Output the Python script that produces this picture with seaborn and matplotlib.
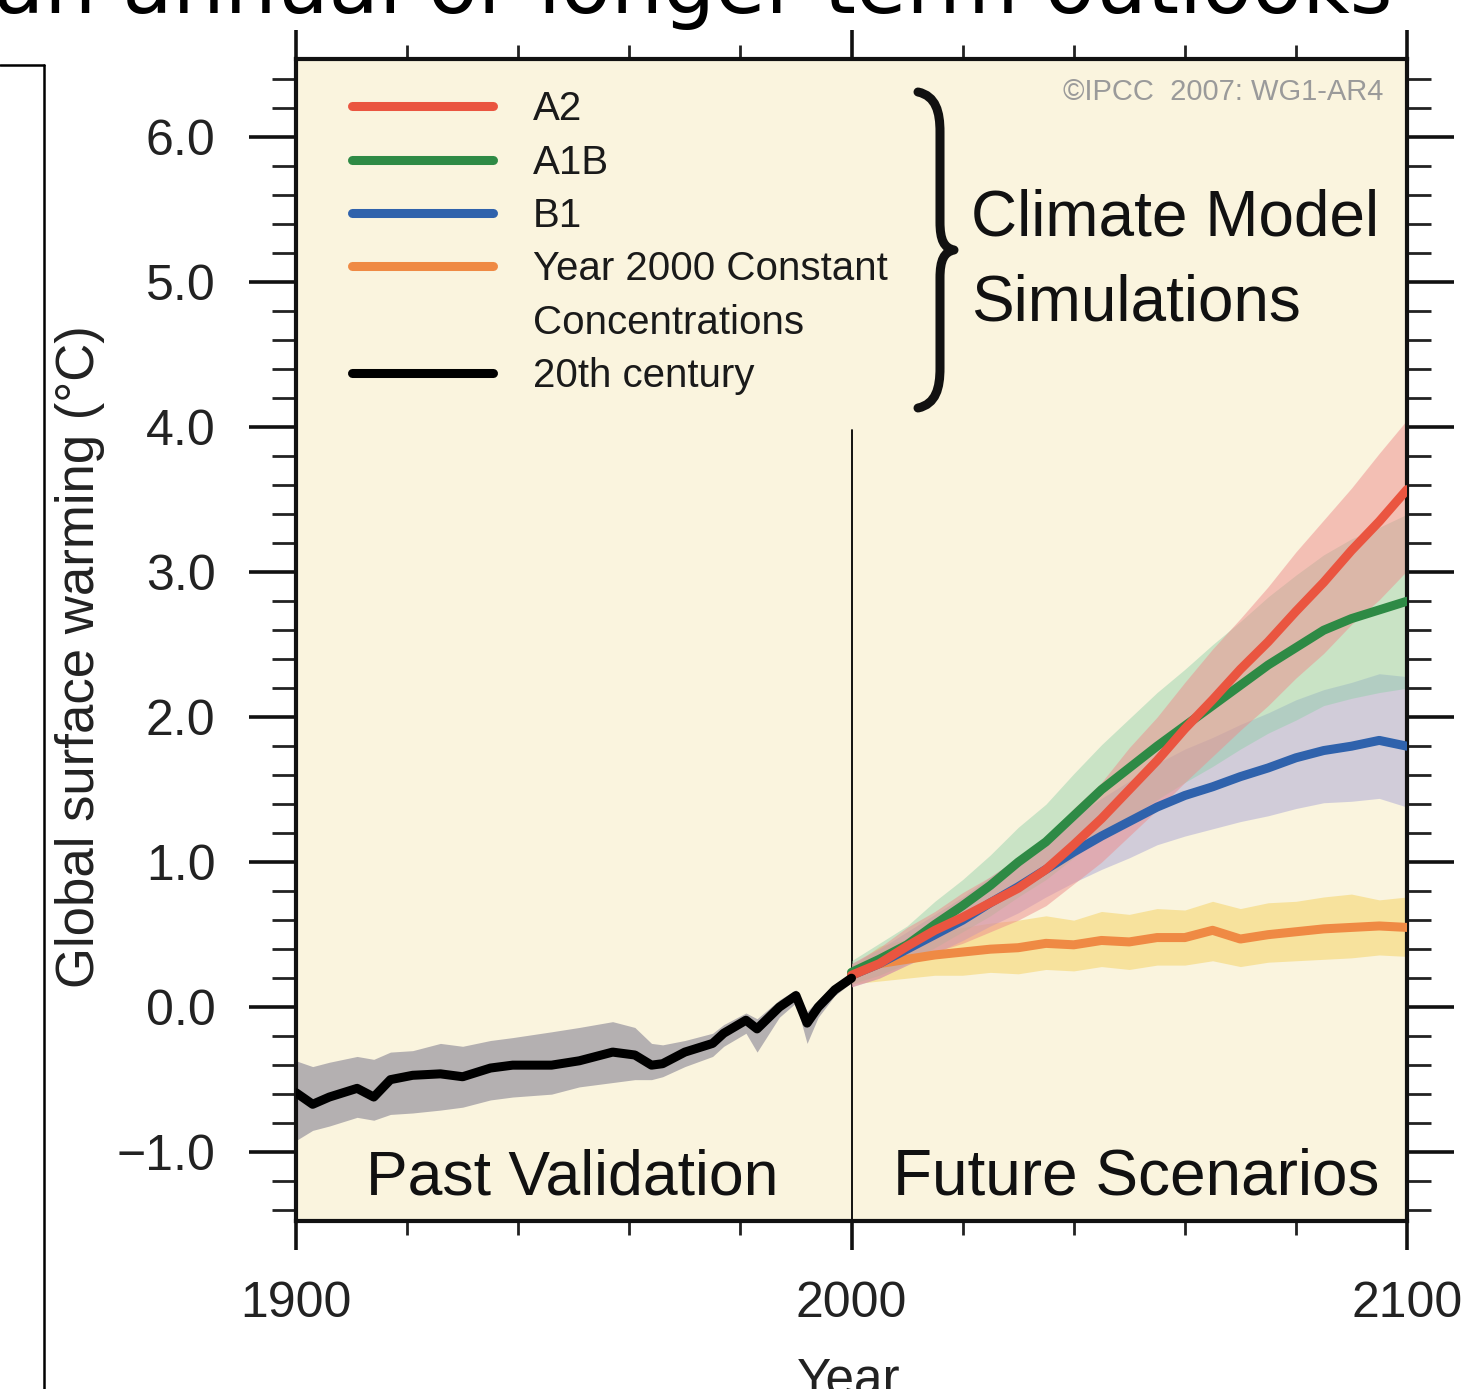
import matplotlib
matplotlib.use("Agg")
import numpy as np
import pandas as pd
import matplotlib.pyplot as plt
import seaborn as sns
from matplotlib.path import Path
from matplotlib.patches import PathPatch
from matplotlib.lines import Line2D
from matplotlib.ticker import MultipleLocator, FixedLocator

# ---------------- data ----------------
years_past = [1900, 1903, 1906, 1911, 1914, 1917, 1921, 1926, 1930, 1935, 1939, 1946,
              1951, 1957, 1961, 1964, 1966, 1970, 1975, 1977, 1981, 1983, 1987, 1990,
              1992, 1994, 1997, 2000]
past_mean = [-0.59, -0.67, -0.62, -0.56, -0.62, -0.50, -0.47, -0.46, -0.48, -0.42, -0.40, -0.40,
             -0.37, -0.31, -0.33, -0.40, -0.39, -0.31, -0.25, -0.18, -0.09, -0.15, 0.00, 0.08,
             -0.11, 0.00, 0.12, 0.20]
past_hi = [-0.37, -0.41, -0.38, -0.34, -0.36, -0.31, -0.30, -0.25, -0.27, -0.23, -0.21, -0.17,
           -0.14, -0.10, -0.14, -0.25, -0.26, -0.23, -0.18, -0.12, -0.04, -0.08, 0.05, 0.12,
           -0.03, 0.05, 0.16, 0.23]
past_lo = [-0.92, -0.85, -0.82, -0.76, -0.78, -0.74, -0.73, -0.71, -0.69, -0.64, -0.62, -0.60,
           -0.55, -0.52, -0.50, -0.50, -0.48, -0.41, -0.34, -0.27, -0.18, -0.31, -0.07, 0.03,
           -0.25, -0.07, 0.08, 0.17]

years_future = [2000, 2005, 2010, 2015, 2020, 2025, 2030, 2035, 2040, 2045, 2050,
                2055, 2060, 2065, 2070, 2075, 2080, 2085, 2090, 2095, 2100]

a2_mean = [0.22, 0.30, 0.42, 0.53, 0.62, 0.72, 0.82, 0.95, 1.12, 1.30, 1.50,
           1.70, 1.92, 2.12, 2.33, 2.52, 2.73, 2.93, 3.15, 3.35, 3.57]
a2_hi = [0.30, 0.41, 0.55, 0.66, 0.79, 0.90, 1.03, 1.17, 1.37, 1.55, 1.79,
         2.00, 2.24, 2.47, 2.68, 2.90, 3.14, 3.36, 3.58, 3.82, 4.05]
a2_lo = [0.14, 0.20, 0.29, 0.38, 0.44, 0.52, 0.60, 0.70, 0.85, 1.00, 1.18,
         1.36, 1.55, 1.73, 1.91, 2.08, 2.27, 2.44, 2.64, 2.81, 3.01]

a1b_mean = [0.24, 0.33, 0.43, 0.57, 0.70, 0.84, 1.00, 1.14, 1.32, 1.50, 1.65,
            1.80, 1.94, 2.08, 2.22, 2.36, 2.48, 2.60, 2.68, 2.74, 2.80]
a1b_hi = [0.32, 0.44, 0.56, 0.73, 0.88, 1.05, 1.24, 1.40, 1.61, 1.81, 1.99,
          2.17, 2.33, 2.50, 2.66, 2.83, 2.98, 3.12, 3.23, 3.31, 3.40]
a1b_lo = [0.16, 0.22, 0.30, 0.41, 0.52, 0.63, 0.76, 0.88, 1.03, 1.19, 1.31,
          1.43, 1.55, 1.66, 1.78, 1.89, 1.98, 2.08, 2.13, 2.17, 2.20]

b1_mean = [0.22, 0.30, 0.40, 0.50, 0.60, 0.72, 0.83, 0.95, 1.07, 1.18, 1.28,
           1.38, 1.46, 1.52, 1.59, 1.65, 1.72, 1.77, 1.80, 1.84, 1.80]
b1_hi = [0.30, 0.40, 0.52, 0.64, 0.76, 0.90, 1.03, 1.17, 1.31, 1.44, 1.56,
         1.68, 1.78, 1.86, 1.95, 2.03, 2.12, 2.19, 2.24, 2.30, 2.28]
b1_lo = [0.14, 0.20, 0.29, 0.37, 0.46, 0.56, 0.65, 0.76, 0.86, 0.95, 1.03,
         1.12, 1.18, 1.23, 1.28, 1.32, 1.37, 1.41, 1.42, 1.44, 1.38]

const_mean = [0.22, 0.30, 0.33, 0.36, 0.38, 0.40, 0.41, 0.44, 0.43, 0.46, 0.45,
              0.48, 0.48, 0.53, 0.47, 0.50, 0.52, 0.54, 0.55, 0.56, 0.55]
const_hi = [0.28, 0.42, 0.47, 0.52, 0.55, 0.58, 0.60, 0.63, 0.60, 0.66, 0.64,
            0.68, 0.67, 0.73, 0.68, 0.72, 0.73, 0.76, 0.78, 0.74, 0.76]
const_lo = [0.16, 0.18, 0.20, 0.22, 0.22, 0.24, 0.23, 0.26, 0.25, 0.28, 0.26,
            0.29, 0.29, 0.32, 0.28, 0.31, 0.32, 0.33, 0.34, 0.36, 0.35]

legend_labels = ["A2", "A1B", "B1", "Year 2000 Constant", "Concentrations", "20th century"]
x_ticks = [1900, 2000, 2100]
y_ticks = [-1.0, 0.0, 1.0, 2.0, 3.0, 4.0, 5.0, 6.0]

# ---------------- style ----------------
sns.set_theme(style="white")
plt.rcParams["font.family"] = ["Liberation Sans", "DejaVu Sans"]
plt.rcParams["axes.unicode_minus"] = True

W, H = 1470, 1389
fig = plt.figure(figsize=(W / 100, H / 100), dpi=100)
fig.patch.set_facecolor("white")
ax = fig.add_axes([296 / W, 1 - 1221 / H, (1407 - 296) / W, (1221 - 59) / H])
ax.set_facecolor("#FAF4DE")

c_a2, c_a1b, c_b1, c_const = "#EA5540", "#2E8A45", "#2F62AC", "#EF8A44"

df_past = pd.DataFrame({"year": years_past, "mean": past_mean, "hi": past_hi, "lo": past_lo})
df_fut = pd.DataFrame({"year": years_future,
                       "a2": a2_mean, "a2_hi": a2_hi, "a2_lo": a2_lo,
                       "a1b": a1b_mean, "a1b_hi": a1b_hi, "a1b_lo": a1b_lo,
                       "b1": b1_mean, "b1_hi": b1_hi, "b1_lo": b1_lo,
                       "cc": const_mean, "cc_hi": const_hi, "cc_lo": const_lo})

# vertical separator at 2000
ax.axvline(2000, ymin=0, ymax=0.681, color="black", lw=1.3, zorder=1)

# uncertainty bands
ax.fill_between(df_past["year"], df_past["lo"], df_past["hi"], color="#9A96A0", alpha=0.72, lw=0, zorder=2)
ax.fill_between(df_fut["year"], df_fut["cc_lo"], df_fut["cc_hi"], color="#F5D468", alpha=0.55, lw=0, zorder=2)
ax.fill_between(df_fut["year"], df_fut["b1_lo"], df_fut["b1_hi"], color="#A9A6D6", alpha=0.5, lw=0, zorder=2)
ax.fill_between(df_fut["year"], df_fut["a1b_lo"], df_fut["a1b_hi"], color="#8ECFA8", alpha=0.45, lw=0, zorder=2)
ax.fill_between(df_fut["year"], df_fut["a2_lo"], df_fut["a2_hi"], color="#EE8C8C", alpha=0.5, lw=0, zorder=2)

# mean lines
lw = 6.5
sns.lineplot(data=df_fut, x="year", y="cc", ax=ax, color=c_const, lw=lw, zorder=4, legend=False)
sns.lineplot(data=df_fut, x="year", y="b1", ax=ax, color=c_b1, lw=lw, zorder=4, legend=False)
sns.lineplot(data=df_fut, x="year", y="a1b", ax=ax, color=c_a1b, lw=lw, zorder=4, legend=False)
sns.lineplot(data=df_fut, x="year", y="a2", ax=ax, color=c_a2, lw=lw, zorder=4, legend=False)
sns.lineplot(data=df_past, x="year", y="mean", ax=ax, color="black", lw=lw, zorder=5, legend=False)

# axes limits, ticks
ax.set_xlim(1900, 2100)
ax.set_ylim(-1.475, 6.54)
ax.xaxis.set_major_locator(FixedLocator(x_ticks))
ax.xaxis.set_minor_locator(MultipleLocator(20))
ax.yaxis.set_major_locator(FixedLocator(y_ticks))
ax.yaxis.set_minor_locator(MultipleLocator(0.2))
ax.set_xticklabels([str(v) for v in x_ticks])
ax.set_yticklabels([f"{v:.1f}".replace("-", "\u2212") for v in y_ticks])

ax.tick_params(axis="y", which="major", direction="out", length=34, width=2.6, pad=24,
               left=True, right=True, labelsize=36, labelcolor="#222222", color="#111111")
ax.tick_params(axis="y", which="minor", direction="out", length=17, width=2.0,
               left=True, right=True, color="#222222")
ax.tick_params(axis="x", which="major", direction="out", length=21, width=2.6, pad=22,
               top=True, bottom=True, labelsize=36, labelcolor="#222222", color="#111111")
ax.tick_params(axis="x", which="minor", direction="out", length=10, width=2.0,
               top=True, bottom=True, color="#222222")
for s in ax.spines.values():
    s.set_visible(True)
    s.set_linewidth(3)
    s.set_color("#111111")
ax.grid(False)

ax.set_ylabel("Global surface warming (\u00b0C)", fontsize=38, color="#222222")
ax.yaxis.label.set_va("center")
ax.yaxis.set_label_coords(-0.1944, 0.4854)
ax.set_xlabel("Year", fontsize=37, color="#222222")
ax.xaxis.label.set_va("top")
ax.xaxis.set_label_coords(0.4977, -0.117)

# legend
handles = [Line2D([], [], color=c_a2, lw=lw, solid_capstyle="round"),
           Line2D([], [], color=c_a1b, lw=lw, solid_capstyle="round"),
           Line2D([], [], color=c_b1, lw=lw, solid_capstyle="round"),
           Line2D([], [], color=c_const, lw=lw, solid_capstyle="round"),
           Line2D([], [], color="none", lw=0),
           Line2D([], [], color="black", lw=lw, solid_capstyle="round")]
leg = ax.legend(handles, legend_labels, loc="upper left", bbox_to_anchor=(0.0504, 0.973),
                frameon=False, fontsize=29, handlelength=3.5, handletextpad=1.0,
                labelspacing=0.38, borderpad=0, borderaxespad=0)
for t in leg.get_texts():
    t.set_color("#1a1a1a")

# annotation texts (positions in data coords)
def px2data(px, py):
    return 1900 + (px - 296) / 5.53, (1007 - py) / 145.0

x, y = px2data(968, 235)
ax.text(x, y, "Climate Model", fontsize=46, va="baseline", ha="left", color="#111111", zorder=6)
x, y = px2data(968, 320)
ax.text(x, y, "Simulations", fontsize=46, va="baseline", ha="left", color="#111111", zorder=6)
x, y = px2data(1378, 100)
ax.text(x, y, "\u00a9IPCC  2007: WG1-AR4", fontsize=21, va="baseline", ha="right", color="#9A9A9A", zorder=6)
x, y = px2data(366, 1194)
ax.text(x, y, "Past Validation", fontsize=45, va="baseline", ha="left", color="#111111", zorder=6)
x, y = px2data(890, 1194)
ax.text(x, y, "Future Scenarios", fontsize=46, va="baseline", ha="left", color="#111111", zorder=6)

# curly brace (figure-pixel positions)
def fp(px, py):
    return (px / W, 1 - py / H)

verts = [fp(918, 92), fp(936, 96), fp(940, 112), fp(940, 132),
         fp(940, 222),
         fp(940, 240), fp(944, 248), fp(954, 250),
         fp(944, 252), fp(940, 260), fp(940, 278),
         fp(940, 368),
         fp(940, 388), fp(936, 404), fp(918, 408)]
codes = [Path.MOVETO, Path.CURVE4, Path.CURVE4, Path.CURVE4,
         Path.LINETO,
         Path.CURVE4, Path.CURVE4, Path.CURVE4,
         Path.CURVE4, Path.CURVE4, Path.CURVE4,
         Path.LINETO,
         Path.CURVE4, Path.CURVE4, Path.CURVE4]
brace = PathPatch(Path(verts, codes), transform=fig.transFigure, fill=False,
                  lw=6.5, edgecolor="#111111", capstyle="round", joinstyle="round")
fig.add_artist(brace)

# slide context: box edge on the left and the clipped title at top
fig.add_artist(Line2D([44 / W, 44 / W], [1 - 65 / H, 0], transform=fig.transFigure, color="black", lw=1.8))
fig.add_artist(Line2D([0, 44 / W], [1 - 65 / H, 1 - 65 / H], transform=fig.transFigure, color="black", lw=1.8))
fig.text(-6 / W, 1 - 13 / H, "an annual or longer-term outlooks", fontsize=59,
         family=["DejaVu Sans"], va="baseline", ha="left", color="black")

fig.savefig("out.png", dpi=100)
